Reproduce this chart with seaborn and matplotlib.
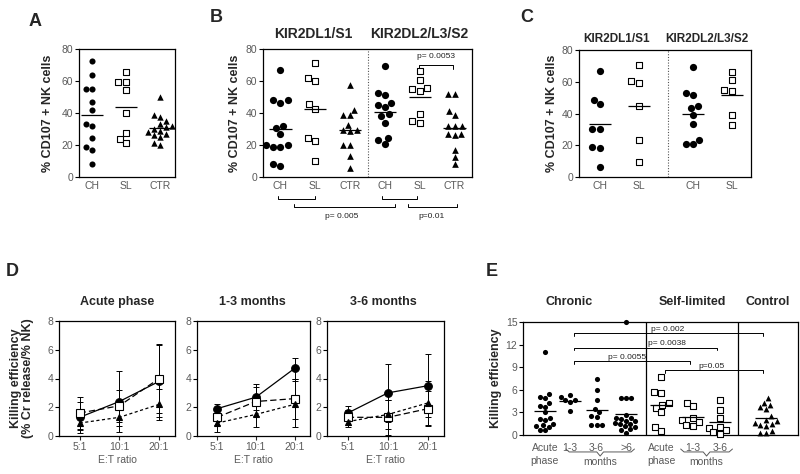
import numpy as np
import matplotlib.pyplot as plt
import seaborn as sns
from matplotlib.transforms import blended_transform_factory

# ---------------- data ----------------
# A: % CD107+ NK cells, all KIR
a_ch = [72.6, 63.8, 55.0, 54.7, 47.0, 41.7, 33.3, 32.0, 24.6, 18.5, 16.8, 8.4]
a_sl = [65.8, 59.6, 59.6, 54.4, 40.2, 27.3, 23.5, 21.0]
a_ctr = [50.2, 38.5, 37.5, 35.0, 33.0, 32.0, 31.0, 30.0, 29.0, 28.0, 27.0, 26.0, 25.0, 21.0, 20.0]

# B: split by KIR ligand
b_kir1_ch = [67.0, 48.0, 48.0, 46.5, 32.0, 30.5, 27.0, 20.0, 20.0, 19.0, 19.0, 8.0, 7.0]
b_kir1_sl = [71.0, 61.7, 60.0, 45.6, 42.5, 24.6, 22.5, 10.0]
b_kir1_ctr = [57.5, 42.0, 38.8, 38.5, 32.5, 29.4, 29.4, 28.5, 20.0, 20.0, 13.3, 5.4]
b_kir2_ch = [69.6, 52.3, 51.3, 46.0, 45.0, 43.5, 39.4, 38.0, 34.0, 24.6, 23.0, 20.6]
b_kir2_sl = [66.2, 60.6, 55.8, 55.0, 53.8, 39.4, 35.0, 33.9]
b_kir2_ctr = [52.0, 52.0, 41.5, 38.7, 32.0, 32.0, 32.0, 27.0, 27.0, 26.0, 17.0, 12.7, 8.0]
b_cats = ['CH', 'SL', 'CTR', 'CH', 'SL', 'CTR']

# C
c_kir1_ch = [66.8, 48.6, 45.9, 30.5, 30.3, 18.8, 18.1, 6.4]
c_kir1_sl = [70.4, 60.4, 59.1, 44.8, 23.5, 9.2]
c_kir2_ch = [69.3, 52.7, 51.6, 44.8, 43.3, 39.0, 33.5, 23.5, 20.9, 20.7]
c_kir2_sl = [66.1, 60.8, 54.8, 54.4, 39.0, 33.0]
c_cats = ['CH', 'SL', 'CH', 'SL']

# D: killing efficiency (mean, sd) at three E:T ratios
ratios = ['5:1', '10:1', '20:1']
d_titles = ['Acute phase', '1-3 months', '3-6 months']
d_circle_mean = [[1.3, 2.4, 3.8], [1.9, 2.7, 4.7], [1.6, 3.0, 3.5]]
d_circle_sd = [[1.1, 2.1, 2.5], [0.3, 0.9, 0.7], [0.5, 2.0, 2.2]]
d_square_mean = [[1.6, 2.1, 4.0], [1.3, 2.4, 2.6], [1.3, 1.3, 1.9]]
d_square_sd = [[1.1, 1.1, 2.4], [0.5, 1.0, 1.4], [0.5, 1.2, 1.2]]
d_tri_mean = [[0.9, 1.3, 2.2], [0.9, 1.5, 2.2], [1.0, 1.5, 2.3]]
d_tri_sd = [[0.5, 0.6, 1.1], [0.6, 0.9, 1.6], [0.4, 1.0, 1.5]]

# E: killing efficiency by group
e_ch_acute = [11.0, 5.4, 5.1, 4.9, 4.2, 3.9, 3.7, 3.0, 2.3, 2.1, 2.0, 1.4, 1.3, 1.2, 1.1, 0.7, 0.6]
e_ch_13 = [5.3, 5.0, 4.7, 4.6, 4.4, 3.2]
e_ch_36 = [7.5, 6.0, 4.6, 3.4, 3.0, 2.5, 2.4, 1.3, 1.3, 1.3]
e_ch_6 = [15.0, 4.9, 4.9, 4.9, 2.6, 2.3, 2.2, 2.1, 1.9, 1.8, 1.6, 1.5, 1.4, 1.2, 1.0, 0.8, 0.6, 0.3]
e_sl_acute = [7.7, 5.7, 5.6, 4.3, 4.0, 3.6, 3.0, 1.0, 0.5]
e_sl_13 = [4.2, 3.8, 2.3, 2.0, 1.7, 1.3, 1.2]
e_sl_36 = [4.7, 3.3, 2.2, 1.1, 0.9, 0.6, 0.4, 0.1]
e_ctrl = [4.9, 4.3, 4.0, 3.7, 3.4, 2.5, 2.0, 1.8, 1.6, 1.5, 1.3, 1.2, 0.5, 0.3, 0.2]
e_ticklabels = ['Acute\nphase', '1-3', '3-6', '>6', 'Acute\nphase', '1-3', '3-6']
e_pvals = ['p= 0.002', 'p= 0.0038', 'p= 0.0055', 'p=0.05']
e_p_from = [1, 1, 1, 4]
e_p_to = [7, 6, 5, 7]
e_p_y = [13.5, 11.6, 9.8, 8.6]

# ---------------- layout ----------------
W, H = 800, 474
sns.set_style('ticks')
plt.rcParams['font.family'] = ['Liberation Sans', 'DejaVu Sans']
TICK_C = '#5a5a5a'

fig = plt.figure(figsize=(W / 100, H / 100), dpi=100)


def add_ax(l, t, r, b):
    return fig.add_axes([l / W, 1 - b / H, (r - l) / W, (b - t) / H])


def ftext(x, y, s, **kw):
    kw.setdefault('ha', 'center')
    kw.setdefault('va', 'center')
    fig.text(x / W, 1 - y / H, s, **kw)


def style_ax(ax, ylim, yticks):
    ax.set_ylim(*ylim)
    ax.set_yticks(yticks)
    ax.tick_params(axis='y', length=3, width=0.8, pad=1, labelsize=7.5, labelcolor=TICK_C, color='black')
    ax.tick_params(axis='x', length=0, pad=3, labelsize=7.5, labelcolor=TICK_C)
    for sp in ax.spines.values():
        sp.set_visible(True)
        sp.set_linewidth(0.9)
        sp.set_color('black')
    ax.set_xlabel('')
    ax.set_ylabel('')


def column(ax, vals, pos, marker, filled, size, hw):
    if filled:
        kw = dict(color='black', linewidth=0)
    else:
        kw = dict(color='white', edgecolor='black', linewidth=0.8)
    sns.swarmplot(x=np.full(len(vals), pos, dtype=float), y=vals, native_scale=True,
                  orient='v', ax=ax, marker=marker, size=size, **kw)
    ax.hlines(np.mean(vals), pos - hw, pos + hw, color='black', lw=0.9, zorder=5)


def bracket(ax, x0, x1, y, h, label=None, ly=None, lx=None, fs=6):
    # x in data, y in axes fraction
    tr = blended_transform_factory(ax.transData, ax.transAxes)
    ax.plot([x0, x0, x1, x1], [y + h, y, y, y + h], color='black', lw=0.7,
            transform=tr, clip_on=False)
    if label:
        ax.text((x0 + x1) / 2 if lx is None else lx, ly, label, transform=tr,
                ha='center', va='center', fontsize=fs, color='#222222')


# ---------------- A ----------------
ax = add_ax(79, 49, 175, 177)
a_pos = [0, 1, 2]
column(ax, a_ch, a_pos[0], 'o', True, 4.4, 0.32)
column(ax, a_sl, a_pos[1], 's', False, 4.4, 0.32)
column(ax, a_ctr, a_pos[2], '^', True, 4.6, 0.32)
style_ax(ax, (0, 80), [0, 20, 40, 60, 80])
ax.set_xlim(-0.38, 2.44)
ax.set_xticks(a_pos)
ax.set_xticklabels(['CH', 'SL', 'CTR'])
ftext(48, 113, '% CD107 + NK cells', rotation=90, fontsize=9, fontweight='bold')
ftext(35, 22, 'A', fontsize=13, fontweight='bold')

# ---------------- B ----------------
ax = add_ax(263, 49, 472, 177)
b_pos = [0, 1, 2, 3, 4, 5]
b_sets = [b_kir1_ch, b_kir1_sl, b_kir1_ctr, b_kir2_ch, b_kir2_sl, b_kir2_ctr]
b_mark = [('o', True, 5.2), ('s', False, 4.6), ('^', True, 4.8)] * 2
for vals, p, (m, f, s) in zip(b_sets, b_pos, b_mark):
    column(ax, vals, p, m, f, s, 0.32)
style_ax(ax, (0, 80), [0, 20, 40, 60, 80])
ax.set_xlim(-0.5, 5.5)
ax.axvline(2.5, color='#555555', lw=0.8, ls=(0, (1, 1.5)))
ax.set_xticks(b_pos)
ax.set_xticklabels(b_cats)
# significance bracket inside
ax.plot([3.98, 3.98, 4.95, 4.95], [67.5, 70, 70, 67.5], color='black', lw=0.7)
ax.text(4.47, 75, 'p= 0.0053', ha='center', va='center', fontsize=6, color='#222222')
# brackets below the axis
bracket(ax, -0.07, 0.99, -0.174, 0.026)
bracket(ax, 2.91, 3.91, -0.174, 0.026)
bracket(ax, 0.39, 3.29, -0.237, 0.026, 'p= 0.005', -0.31, 1.76)
bracket(ax, 3.65, 5.06, -0.237, 0.026, 'p=0.01', -0.31, 4.34)
ftext(235, 113, '% CD107 + NK cells', rotation=90, fontsize=9, fontweight='bold')
ftext(313, 34, 'KIR2DL1/S1', fontsize=10, fontweight='bold')
ftext(419, 34, 'KIR2DL2/L3/S2', fontsize=10, fontweight='bold')
ftext(216, 18, 'B', fontsize=13, fontweight='bold')

# ---------------- C ----------------
ax = add_ax(579, 50, 751, 177)
c_pos = [0, 1, 2.4, 3.4]
c_sets = [c_kir1_ch, c_kir1_sl, c_kir2_ch, c_kir2_sl]
c_mark = [('o', True, 5.2), ('s', False, 4.6)] * 2
for vals, p, (m, f, s) in zip(c_sets, c_pos, c_mark):
    column(ax, vals, p, m, f, s, 0.28)
style_ax(ax, (0, 80), [0, 20, 40, 60, 80])
ax.set_xlim(-0.53, 3.88)
ax.axvline(1.75, color='#555555', lw=0.8, ls=(0, (1, 1.5)))
ax.set_xticks(c_pos)
ax.set_xticklabels(c_cats)
ftext(552, 113, '% CD107 + NK cells', rotation=90, fontsize=9, fontweight='bold')
ftext(617, 39, 'KIR2DL1/S1', fontsize=8.5, fontweight='bold')
ftext(707, 39, 'KIR2DL2/L3/S2', fontsize=8.5, fontweight='bold')
ftext(527, 17, 'C', fontsize=13, fontweight='bold')

# ---------------- D ----------------
d_boxes = [(59, 321, 175, 436), (197, 321, 310, 436), (327, 321, 444, 436)]
d_cx = [117, 252, 383]
r_pos = np.arange(len(ratios))
series = [
    (d_circle_mean, d_circle_sd, dict(marker='o', markersize=5.5, markerfacecolor='black',
                                      linestyle='-')),
    (d_square_mean, d_square_sd, dict(marker='s', markersize=5.2, markerfacecolor='white',
                                      linestyle=(0, (5, 2.5)))),
    (d_tri_mean, d_tri_sd, dict(marker='^', markersize=4.8, markerfacecolor='black',
                                linestyle=(0, (2.5, 2)))),
]
for i, box in enumerate(d_boxes):
    ax = add_ax(*box)
    for means, sds, kw in series:
        ax.errorbar(r_pos, means[i], yerr=sds[i], fmt='none', ecolor='black',
                    elinewidth=0.7, capsize=2.2, capthick=0.7, zorder=2)
        sns.lineplot(x=r_pos, y=means[i], ax=ax, color='black', lw=0.9,
                     markeredgecolor='black', markeredgewidth=0.8, zorder=3, **kw)
    style_ax(ax, (0, 8), [0, 2, 4, 6, 8])
    ax.set_xlim(-0.52, 2.4)
    ax.set_xticks(r_pos)
    ax.set_xticklabels(ratios)
    ax.tick_params(axis='x', length=3, width=0.8, pad=1.5)
    ax.set_xlabel('E:T ratio', fontsize=7.5, color=TICK_C, labelpad=2)
    ftext(d_cx[i], 302, d_titles[i], fontsize=9, fontweight='bold')
ftext(22, 378, 'Killing efficiency\n(% Cr release/% NK)', rotation=90, fontsize=9,
      fontweight='bold', linespacing=1.0)
ftext(12, 272, 'D', fontsize=13, fontweight='bold')

# ---------------- E ----------------
ax = add_ax(523, 322, 798, 435)
e_pos = [0, 0.9, 1.85, 2.9, 4.15, 5.3, 6.25, 7.9]
e_sets = [e_ch_acute, e_ch_13, e_ch_36, e_ch_6, e_sl_acute, e_sl_13, e_sl_36, e_ctrl]
e_mark = [('o', True, 3.7)] * 4 + [('s', False, 4.0)] * 3 + [('^', True, 4.2)]
for vals, p, (m, f, s) in zip(e_sets, e_pos, e_mark):
    column(ax, vals, p, m, f, s, 0.39)
for coll in ax.collections:
    coll.set_clip_on(False)
style_ax(ax, (0, 15), [0, 3, 6, 9, 12, 15])
ax.set_xlim(-0.78, 9.04)
ax.axvline(3.63, color='black', lw=0.9)
ax.axvline(6.9, color='black', lw=0.9)
ax.set_xticks(e_pos[:7])
ax.set_xticklabels(e_ticklabels, linespacing=1.35)
ax.tick_params(axis='x', pad=6)
e_label_x = [4.39, 4.35, 2.92, 5.95]
for p, a, b, y, lx in zip(e_pvals, e_p_from, e_p_to, e_p_y, e_label_x):
    x0, x1 = e_pos[a] + 0.15, e_pos[b] - 0.1
    ax.plot([x0, x0, x1, x1], [y - 0.35, y, y, y - 0.35], color='black', lw=0.7)
    ax.text(lx, y + 0.55, p, ha='center', va='center', fontsize=6, color='#222222')
tr = blended_transform_factory(ax.transData, ax.transAxes)
for x0, x1 in [(e_pos[1] - 0.15, e_pos[3] + 0.3), (e_pos[5] - 0.45, e_pos[6] + 0.45)]:
    xm = (x0 + x1) / 2
    ax.plot([x0, x0 + 0.12, xm - 0.12, xm, xm + 0.12, x1 - 0.12, x1],
            [-0.124, -0.150, -0.150, -0.186, -0.150, -0.150, -0.124],
            color=TICK_C, lw=0.7, transform=tr, clip_on=False)
    ax.text(xm, -0.236, 'months', transform=tr, ha='center', va='center',
            fontsize=7.5, color=TICK_C)
ax.set_ylabel('Killing efficiency', fontsize=9, fontweight='bold', labelpad=3)
ftext(569, 302, 'Chronic', fontsize=9, fontweight='bold')
ftext(692, 302, 'Self-limited', fontsize=9, fontweight='bold')
ftext(768, 302, 'Control', fontsize=9, fontweight='bold')
ftext(492, 272, 'E', fontsize=13, fontweight='bold')

fig.savefig('out.png', dpi=100)
